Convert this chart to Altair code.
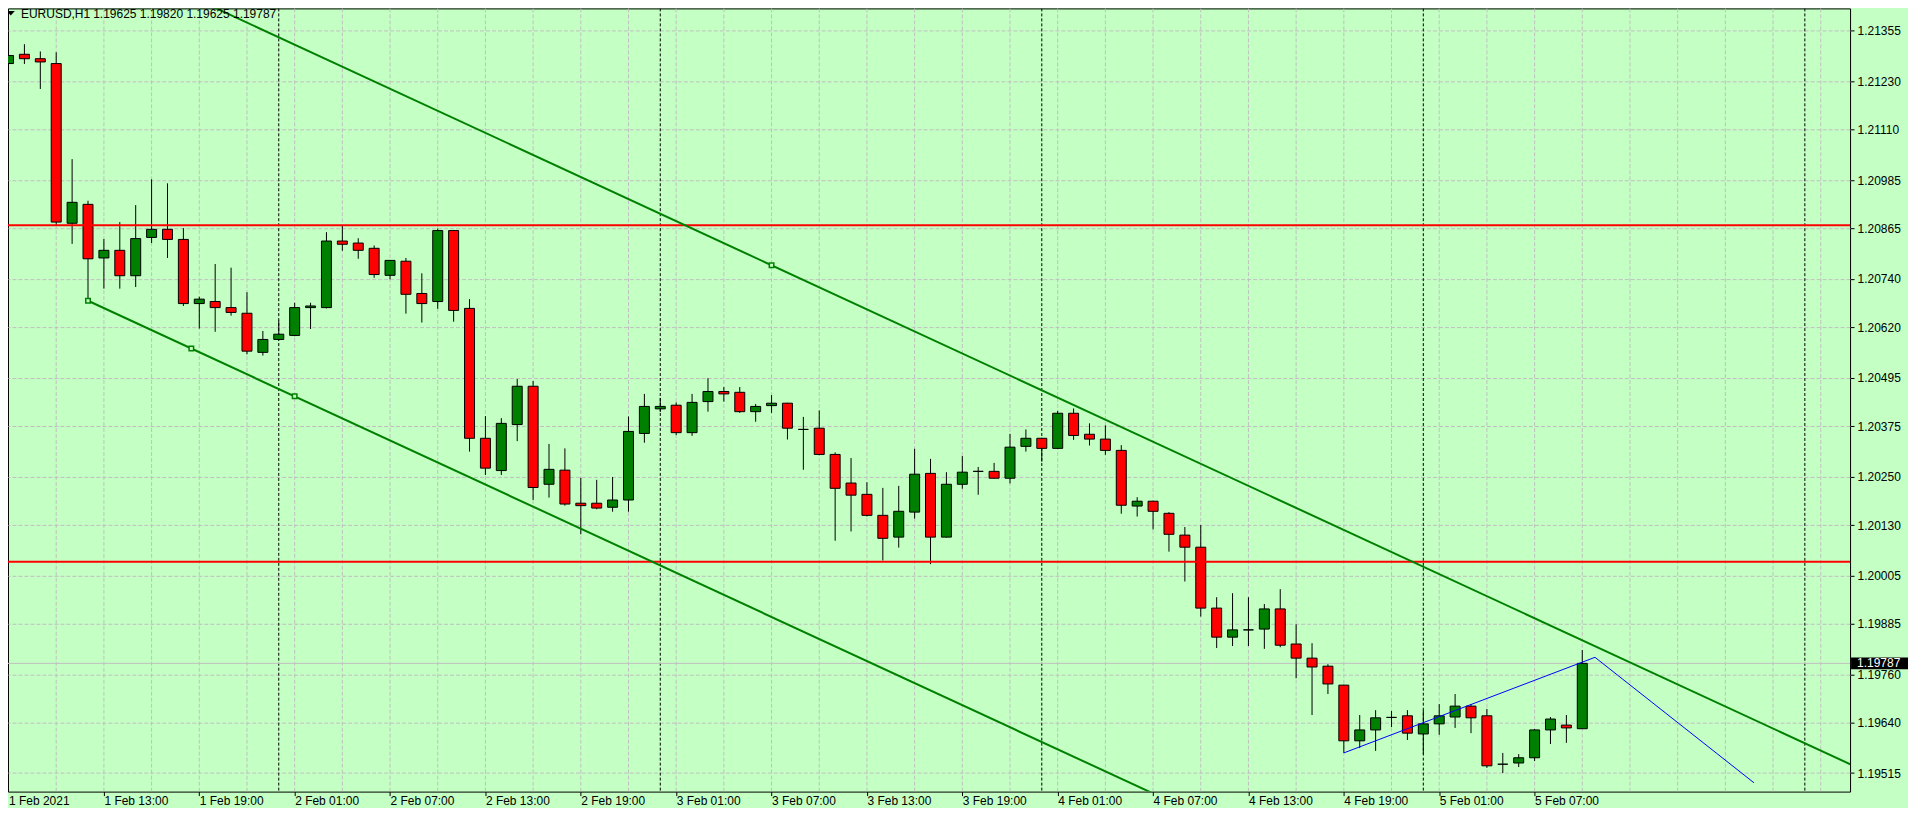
import altair as alt
import pandas as pd

FONT = "Liberation Sans"
BG = "#C4FFC4"

symbol_text = "EURUSD,H1"
header_text = "1.19625 1.19820 1.19625 1.19787"

# bar index 0 = 1 Feb 2021 07:00, one bar per hour (H1)
opens = [1.21274, 1.21297, 1.21286, 1.21274, 1.20878, 1.20925, 1.20792, 1.20811, 1.20748, 1.20843,
         1.20863, 1.20838, 1.20679, 1.20684, 1.20669, 1.20655, 1.20558, 1.20590, 1.20600, 1.20669,
         1.20669, 1.20834, 1.20829, 1.20816, 1.20749, 1.20784, 1.20704, 1.20684, 1.20860, 1.20667,
         1.20345, 1.20265, 1.20379, 1.20474, 1.20231, 1.20266, 1.20184, 1.20184, 1.20174, 1.20192,
         1.20357, 1.20418, 1.20427, 1.20359, 1.20436, 1.20461, 1.20459, 1.20411, 1.20426, 1.20432,
         1.20367, 1.20370, 1.20305, 1.20234, 1.20206, 1.20154, 1.20100, 1.20162, 1.20258, 1.20100,
         1.20231, 1.20263, 1.20263, 1.20246, 1.20325, 1.20345, 1.20320, 1.20407, 1.20355, 1.20343,
         1.20315, 1.20177, 1.20189, 1.20159, 1.20105, 1.20075, 1.19924, 1.19852, 1.19870, 1.19872,
         1.19922, 1.19835, 1.19800, 1.19780, 1.19733, 1.19595, 1.19622, 1.19653, 1.19657, 1.19612,
         1.19637, 1.19654, 1.19681, 1.19657, 1.19537, 1.19540, 1.19553, 1.19622, 1.19634, 1.19625]
highs = [1.21319, 1.21322, 1.21304, 1.21302, 1.21037, 1.20934, 1.20839, 1.20881, 1.20923, 1.20987,
         1.20977, 1.20866, 1.20696, 1.20777, 1.20768, 1.20707, 1.20611, 1.20637, 1.20681, 1.20681,
         1.20856, 1.20873, 1.20841, 1.20823, 1.20787, 1.20792, 1.20754, 1.20865, 1.20861, 1.20690,
         1.20400, 1.20395, 1.20492, 1.20487, 1.20331, 1.20320, 1.20247, 1.20242, 1.20249, 1.20399,
         1.20455, 1.20445, 1.20434, 1.20455, 1.20494, 1.20472, 1.20472, 1.20430, 1.20452, 1.20433,
         1.20398, 1.20414, 1.20310, 1.20296, 1.20236, 1.20222, 1.20227, 1.20319, 1.20294, 1.20261,
         1.20301, 1.20274, 1.20284, 1.20356, 1.20367, 1.20346, 1.20413, 1.20419, 1.20382, 1.20377,
         1.20328, 1.20199, 1.20190, 1.20162, 1.20125, 1.20130, 1.19951, 1.19961, 1.19951, 1.19934,
         1.19971, 1.19884, 1.19837, 1.19785, 1.19734, 1.19659, 1.19671, 1.19669, 1.19671, 1.19671,
         1.19686, 1.19711, 1.19686, 1.19674, 1.19565, 1.19562, 1.19624, 1.19654, 1.19659, 1.19820]
lows = [1.21253, 1.21273, 1.21211, 1.20872, 1.20827, 1.20686, 1.20716, 1.20716, 1.20720, 1.20829,
        1.20792, 1.20673, 1.20617, 1.20609, 1.20649, 1.20553, 1.20550, 1.20588, 1.20598, 1.20616,
        1.20667, 1.20810, 1.20790, 1.20743, 1.20739, 1.20654, 1.20632, 1.20666, 1.20634, 1.20312,
        1.20254, 1.20254, 1.20338, 1.20192, 1.20198, 1.20178, 1.20107, 1.20169, 1.20163, 1.20163,
        1.20334, 1.20410, 1.20353, 1.20351, 1.20411, 1.20436, 1.20408, 1.20386, 1.20408, 1.20342,
        1.20267, 1.20303, 1.20091, 1.20114, 1.20151, 1.20042, 1.20074, 1.20146, 1.20033, 1.20099,
        1.20220, 1.20205, 1.20245, 1.20233, 1.20312, 1.20287, 1.20319, 1.20341, 1.20327, 1.20304,
        1.20158, 1.20151, 1.20119, 1.20064, 1.19990, 1.19903, 1.19825, 1.19830, 1.19830, 1.19823,
        1.19827, 1.19750, 1.19659, 1.19711, 1.19565, 1.19577, 1.19570, 1.19629, 1.19597, 1.19562,
        1.19610, 1.19627, 1.19614, 1.19528, 1.19515, 1.19530, 1.19545, 1.19587, 1.19590, 1.19625]
closes = [1.21294, 1.21286, 1.21278, 1.20881, 1.20930, 1.20790, 1.20811, 1.20748, 1.20840, 1.20863,
          1.20838, 1.20679, 1.20690, 1.20669, 1.20657, 1.20561, 1.20590, 1.20603, 1.20669, 1.20673,
          1.20834, 1.20826, 1.20811, 1.20751, 1.20786, 1.20702, 1.20679, 1.20860, 1.20662, 1.20345,
          1.20271, 1.20382, 1.20474, 1.20223, 1.20268, 1.20182, 1.20178, 1.20172, 1.20192, 1.20362,
          1.20424, 1.20424, 1.20359, 1.20434, 1.20461, 1.20455, 1.20411, 1.20424, 1.20432, 1.20370,
          1.20367, 1.20305, 1.20221, 1.20204, 1.20154, 1.20097, 1.20164, 1.20256, 1.20100, 1.20231,
          1.20261, 1.20263, 1.20246, 1.20323, 1.20345, 1.20320, 1.20407, 1.20352, 1.20343, 1.20315,
          1.20179, 1.20189, 1.20164, 1.20107, 1.20075, 1.19924, 1.19852, 1.19870, 1.19870, 1.19922,
          1.19832, 1.19800, 1.19778, 1.19736, 1.19595, 1.19622, 1.19652, 1.19653, 1.19614, 1.19637,
          1.19657, 1.19681, 1.19652, 1.19533, 1.19537, 1.19553, 1.19622, 1.19649, 1.19627, 1.19787]

# axis ticks
x_tick_bars = [0, 6, 12, 18, 24, 30, 36, 42, 48, 54, 60, 66, 72, 78, 84, 90, 96]
x_tick_labels = ["1 Feb 2021", "1 Feb 13:00", "1 Feb 19:00", "2 Feb 01:00", "2 Feb 07:00",
                 "2 Feb 13:00", "2 Feb 19:00", "3 Feb 01:00", "3 Feb 07:00", "3 Feb 13:00",
                 "3 Feb 19:00", "4 Feb 01:00", "4 Feb 07:00", "4 Feb 13:00", "4 Feb 19:00",
                 "5 Feb 01:00", "5 Feb 07:00"]
y_tick_values = [1.21355, 1.21230, 1.21110, 1.20985, 1.20865, 1.20740, 1.20620, 1.20495,
                 1.20375, 1.20250, 1.20130, 1.20005, 1.19885, 1.19760, 1.19640, 1.19515]
grid_bars = list(range(3, 116, 3))
day_separator_bars = [17, 41, 65, 89, 113]

# objects drawn on the chart
red_levels = [1.20873, 1.20039]
bid_price = 1.19787
channel_base_bars = [5, 18]
channel_base_prices = [1.20686, 1.20449]
channel_top_bar = 48
channel_top_price = 1.20774
blue_bars = [84, 99.8, 109.8]
blue_prices = [1.19565, 1.19802, 1.19491]
ray_end_bar = 116

# ---------------------------------------------------------------- data frames
candles = pd.DataFrame({"bar": list(range(len(opens))), "open": opens, "high": highs,
                        "low": lows, "close": closes})
candles["dir"] = ["up" if c > o else ("down" if c < o else "flat") for o, c in zip(opens, closes)]

slope = (channel_base_prices[1] - channel_base_prices[0]) / (channel_base_bars[1] - channel_base_bars[0])
b0 = channel_base_bars[0]
chan_rows = []
for b in (b0, ray_end_bar):
    chan_rows.append({"line": "base", "bar": b, "price": channel_base_prices[0] + slope * (b - b0)})
    chan_rows.append({"line": "top", "bar": b, "price": channel_top_price + slope * (b - channel_top_bar)})
channel = pd.DataFrame(chan_rows)
mid_bar = (channel_base_bars[0] + channel_base_bars[1]) / 2
anchors = pd.DataFrame({
    "bar": [channel_base_bars[0], mid_bar, channel_base_bars[1], channel_top_bar],
    "price": [channel_base_prices[0], (channel_base_prices[0] + channel_base_prices[1]) / 2,
              channel_base_prices[1], channel_top_price],
})
blue = pd.DataFrame({"bar": blue_bars, "price": blue_prices, "order": list(range(len(blue_bars)))})

# ---------------------------------------------------------------- scales / axes
x_scale = alt.Scale(domain=[0.28125, 115.53125], nice=False, zero=False)
y_scale = alt.Scale(domain=[1.1946911, 1.2141069], nice=False, zero=False)

label_expr = "''"
for b, lab in reversed(list(zip(x_tick_bars[1:], x_tick_labels[1:]))):
    label_expr = f"datum.value == {b} ? '{lab}' : ({label_expr})"

x_axis = alt.Axis(values=x_tick_bars[1:], labelExpr=label_expr, title=None, grid=False,
                  domain=False, ticks=True, tickSize=4, tickColor="black", labelAlign="left",
                  labelBaseline="alphabetic", labelPadding=9, labelFont=FONT,
                  labelFontSize=12, labelColor="black",
                  labelOverlap=False, labelBound=False, labelFlush=False)
y_axis = alt.Axis(orient="right", values=y_tick_values, format=".5f", title=None, grid=True,
                  gridColor="#C0C0C0", gridDash=[4, 2], gridWidth=1, domain=False,
                  tickSize=4, tickColor="black", labelPadding=3, labelFont=FONT,
                  labelFontSize=12, labelColor="black", labelOverlap=False,
                  labelBound=False, labelFlush=False)


def X(field="bar"):
    return alt.X(f"{field}:Q", scale=x_scale, axis=x_axis)


def Y(field="price"):
    return alt.Y(f"{field}:Q", scale=y_scale, axis=y_axis)


vgrid = alt.Chart(pd.DataFrame({"bar": grid_bars})).mark_rule(
    color="#C0C0C0", strokeDash=[4, 2], strokeWidth=1, clip=True).encode(x=X())

separators = alt.Chart(pd.DataFrame({"bar": day_separator_bars})).mark_rule(
    color="black", strokeDash=[3, 2], strokeWidth=1, clip=True).encode(x=X())

bid_line = alt.Chart(pd.DataFrame({"price": [bid_price]})).mark_rule(
    color="#C0C0C0", strokeWidth=1).encode(y=Y())

wicks = alt.Chart(candles).mark_rule(color="black", strokeWidth=1, clip=True).encode(
    x=X(), y=Y("low"), y2="high:Q")

bodies = alt.Chart(candles).mark_bar(size=10, stroke="black", strokeWidth=1, clip=True).encode(
    x=X(), y=Y("open"), y2="close:Q",
    fill=alt.Fill("dir:N", scale=alt.Scale(domain=["up", "down", "flat"],
                                           range=["#008000", "#FF0000", "#000000"]), legend=None))

red_lines = alt.Chart(pd.DataFrame({"price": red_levels})).mark_rule(
    color="#FF0000", strokeWidth=2).encode(y=Y())

channel_lines = alt.Chart(channel).mark_line(color="#008000", strokeWidth=2, clip=True).encode(
    x=X(), y=Y(), detail="line:N")

blue_line = alt.Chart(blue).mark_line(color="#0000FF", strokeWidth=1, clip=True).encode(
    x=X(), y=Y(), order="order:Q")

anchor_pts = alt.Chart(anchors).mark_point(
    shape="square", size=20, filled=False, fill=BG, stroke="#008000", strokeWidth=1.5,
    opacity=1, clip=True).encode(x=X(), y=Y())

header_symbol = alt.Chart(pd.DataFrame({"t": [symbol_text]})).mark_text(
    align="left", baseline="alphabetic", font=FONT, fontSize=12, color="black").encode(
    x=alt.value(13), y=alt.value(9.3), text="t:N")
header_vals = alt.Chart(pd.DataFrame({"t": [header_text]})).mark_text(
    align="left", baseline="alphabetic", font=FONT, fontSize=12, color="black").encode(
    x=alt.value(85.3), y=alt.value(9.3), text="t:N")
header_tri = alt.Chart(pd.DataFrame({"t": [symbol_text]})).mark_point(
    shape="M-1,-0.55L1,-0.55L0,0.55Z", size=64, filled=True, color="black", opacity=1).encode(
    x=alt.value(2.8), y=alt.value(4.8))

price_box = alt.Chart(pd.DataFrame({"price": [bid_price]})).mark_point(
    shape="M-1,-0.2105L1,-0.2105L1,0.2105L-1,0.2105Z", size=3249, filled=True,
    color="black", opacity=1).encode(x=alt.value(1873.5), y=Y())
price_txt = alt.Chart(pd.DataFrame({"price": [bid_price], "t": [f"{bid_price:.5f}"]})).mark_text(
    align="left", baseline="middle", font=FONT, fontSize=12, color="white").encode(
    x=alt.value(1851), y=Y(), text="t:N")

first_label = alt.Chart(pd.DataFrame({"t": [x_tick_labels[0]]})).mark_text(
    align="left", baseline="alphabetic", font=FONT, fontSize=12, color="black").encode(
    x=alt.value(1), y=alt.value(797), text="t:N")

chart = alt.layer(
    vgrid, separators, bid_line, wicks, bodies, red_lines, channel_lines, blue_line,
    anchor_pts, header_tri, header_symbol, header_vals, price_box, price_txt, first_label,
).properties(
    width=1844, height=784,
    autosize=alt.AutoSizeParams(type="none"),
    padding={"left": 0, "top": 0, "right": 58, "bottom": 16},
    background=BG,
).configure_view(stroke="black", strokeWidth=1)

chart.save("out.html", embed_options={"renderer": "svg", "actions": False})
